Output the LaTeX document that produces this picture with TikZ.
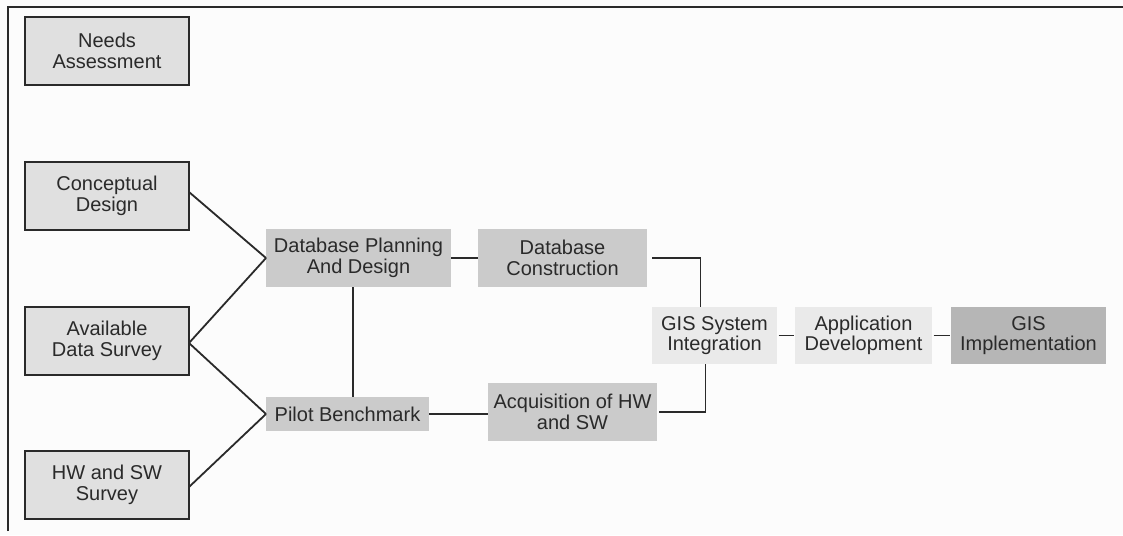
\documentclass[tikz,border=0pt]{standalone}
\usepackage{fontspec}
\setmainfont{Liberation Sans}
\usepackage{xcolor}
\definecolor{boxlight}{HTML}{E0E0E0}
\definecolor{boxmid}{HTML}{CBCBCB}
\definecolor{boxpale}{HTML}{EAEAEA}
\definecolor{boxdark}{HTML}{B6B6B6}
\definecolor{inkgray}{HTML}{2A2A2A}
\definecolor{paper}{HTML}{FCFCFC}
\usetikzlibrary{positioning}

\begin{document}
\begin{tikzpicture}[
  x=1pt,y=-1pt,
  every node/.style={rectangle,inner sep=0pt,outer sep=0pt,align=center,text=inkgray,font=\fontsize{20}{20.5}\selectfont},
  survey/.style={fill=boxlight,draw=inkgray,line width=1.8pt,minimum width=164pt,minimum height=68pt},
  plan/.style={fill=boxmid,minimum height=58pt},
  integ/.style={fill=boxpale,minimum height=57pt},
  final/.style={fill=boxdark,minimum height=57pt},
  link/.style={draw=inkgray,line width=1.8pt},
]

% Page and frame
\fill[paper] (0,0) rectangle (1123,535);
\useasboundingbox (0,0) rectangle (1123,535);
\draw[inkgray,line width=2.4pt] (8,531) -- (8,7) -- (1123,7);

% Surveys
\node[survey] (needs) at (107,51) {Needs\\Assessment};
\node[survey,below=77pt of needs] (concept) {Conceptual\\Design};
\node[survey,below=77pt of concept] (avail) {Available\\Data Survey};
\node[survey,below=76pt of avail] (hwsurvey) {HW and SW\\Survey};

% Planning
\node[plan,minimum width=185pt] (dbplan) at (358.5,258) {Database Planning\\And Design};
\node[plan,minimum width=169pt,right=27pt of dbplan] (dbcons) {Database\\Construction};
\node[plan,minimum width=163pt,minimum height=34pt] (pilot) at (347.5,414) {Pilot Benchmark};
\node[plan,minimum width=169pt] (acq) at (572.5,412) {Acquisition of HW\\and SW};

% Integration
\node[integ,minimum width=125pt] (gisint) at (714.5,335.5) {GIS System\\Integration};
\node[integ,minimum width=137pt,right=18pt of gisint] (appdev) {Application\\Development};
\node[final,minimum width=155pt,right=19pt of appdev] (gisimpl) {GIS\\Implementation};

% Links
\draw[link] ([yshift=4pt]concept.east) -- (dbplan.west);
\draw[link] ([yshift=-2pt]avail.east) -- (dbplan.west);
\draw[link] ([yshift=-2pt]avail.east) -- (pilot.west);
\draw[link] ([yshift=-2pt]hwsurvey.east) -- (pilot.west);
\draw[link] ([xshift=-5.5pt]dbplan.south) -- ([xshift=5.5pt]pilot.north);
\draw[link] (dbplan.east) -- (dbcons.east -| dbcons.west);
\draw[link] ([xshift=5pt]dbcons.east) -| ([xshift=-14pt]gisint.north);
\draw[link] (pilot.east) -- (acq.west |- pilot.east);
\draw[link] ([xshift=2pt]acq.east) -| ([xshift=-9pt]gisint.south);
\draw[link] ([xshift=1.5pt]gisint.east) -- ([xshift=-1.5pt]appdev.west);
\draw[link] ([xshift=1.5pt]appdev.east) -- ([xshift=-1.5pt]gisimpl.west);
\end{tikzpicture}
\end{document}
